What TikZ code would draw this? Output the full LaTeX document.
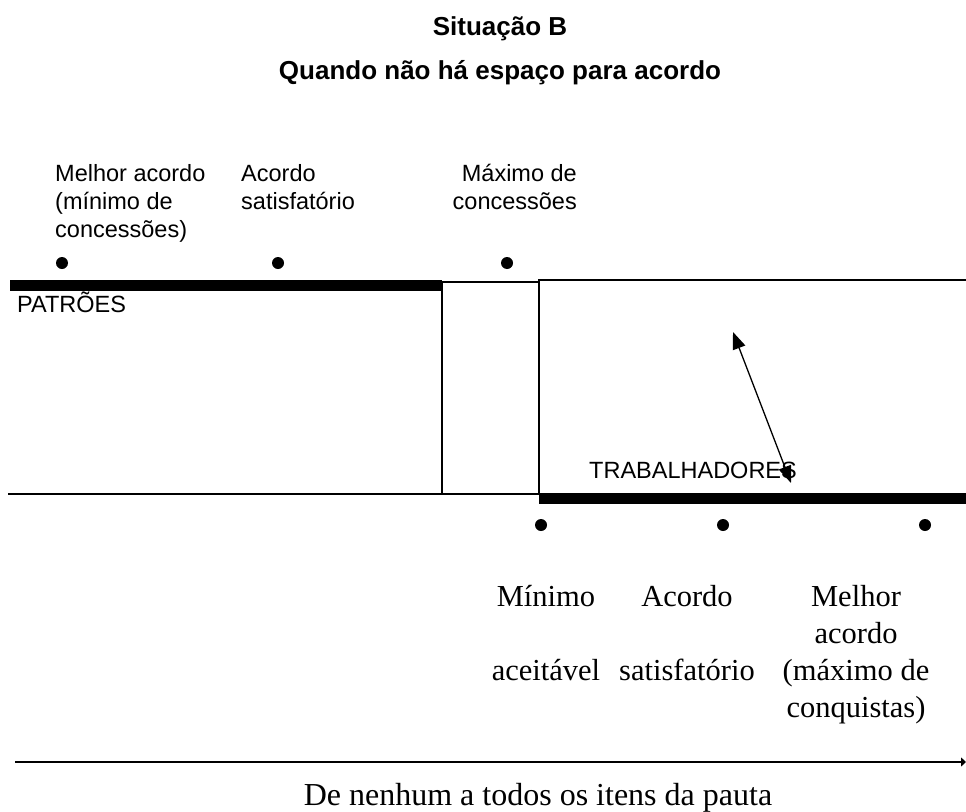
\documentclass[tikz,border=0pt]{standalone}
\usepackage{fontspec}
\setmainfont{Liberation Serif}
\setsansfont{Liberation Sans}
\usetikzlibrary{arrows.meta}

\begin{document}
\begin{tikzpicture}[x=1pt,y=-1pt,
  titulo/.style={font=\sffamily\bfseries\fontsize{26}{30}\selectfont, inner sep=0pt, anchor=base},
  arial/.style={font=\sffamily\fontsize{23.5}{28}\selectfont, inner sep=0pt},
  times/.style={font=\rmfamily\fontsize{30.5}{37}\selectfont, inner sep=0pt, align=center, anchor=base},
  ponto/.style={circle, fill=black, minimum size=12pt, inner sep=0pt},
  borda/.style={line width=2.5pt}]
				\useasboundingbox (0,0) rectangle (966,811);
				\node[titulo] (sit) at (500,35) {Situação B};
				\node[titulo] (quando) at (500,79) {Quando não há espaço para acordo};
				\node[arial, anchor=base west, align=left] (pmelhor) at (55,237) {Melhor acordo\\(mínimo de\\concessões)};
				\node[arial, anchor=base west, align=left] (pacordo) at (241,209) {Acordo\\satisfatório};
				\node[arial, anchor=base east, align=right] (pmaximo) at (577,209) {Máximo de\\concessões};
				\node[ponto] (p1) at (62,263) {};
				\node[ponto] (p2) at (278,263) {};
				\node[ponto] (p3) at (507,263) {};
				\fill (10,280) rectangle (442,291);
				\draw[borda] (8,494) -- (442,494);
				\draw[borda] (442,282) rectangle (539,494);
				\draw[borda] (539,494) -- (539,280) -- (968,280);
				\fill (539,493) rectangle (966,504);
				\node[arial, anchor=base west] (patroes) at (17,312) {PATRÕES};
				\node[arial, anchor=base west] (trab) at (589,478) {TRABALHADORES};
				\coordinate (seta1) at (733,332);
				\coordinate (seta2) at (791,483);
				\draw[line width=1.3pt, {Triangle[length=17pt,width=13pt]}-{Triangle[length=17pt,width=13pt]}] (seta1) -- (seta2);
				\node[ponto] (t1) at (541,525) {};
				\node[ponto] (t2) at (723,525) {};
				\node[ponto] (t3) at (925,525) {};
				\node[times] (tminimo) at (546,680) {Mínimo\\[37pt]aceitável};
				\node[times] (tacordo) at (687,680) {Acordo\\[37pt]satisfatório};
				\node[times] (tmelhor) at (856,717) {Melhor\\acordo\\(máximo de\\conquistas)};
				\coordinate (eixo1) at (15,762);
				\coordinate (eixo2) at (966,762);
				\draw[borda, -{Triangle[length=5pt,width=9pt]}] (eixo1) -- (eixo2);
				\node[times, font=\rmfamily\fontsize{32}{37}\selectfont] (pauta) at (538,805) {De nenhum a todos os itens da pauta};
\end{tikzpicture}
\end{document}
